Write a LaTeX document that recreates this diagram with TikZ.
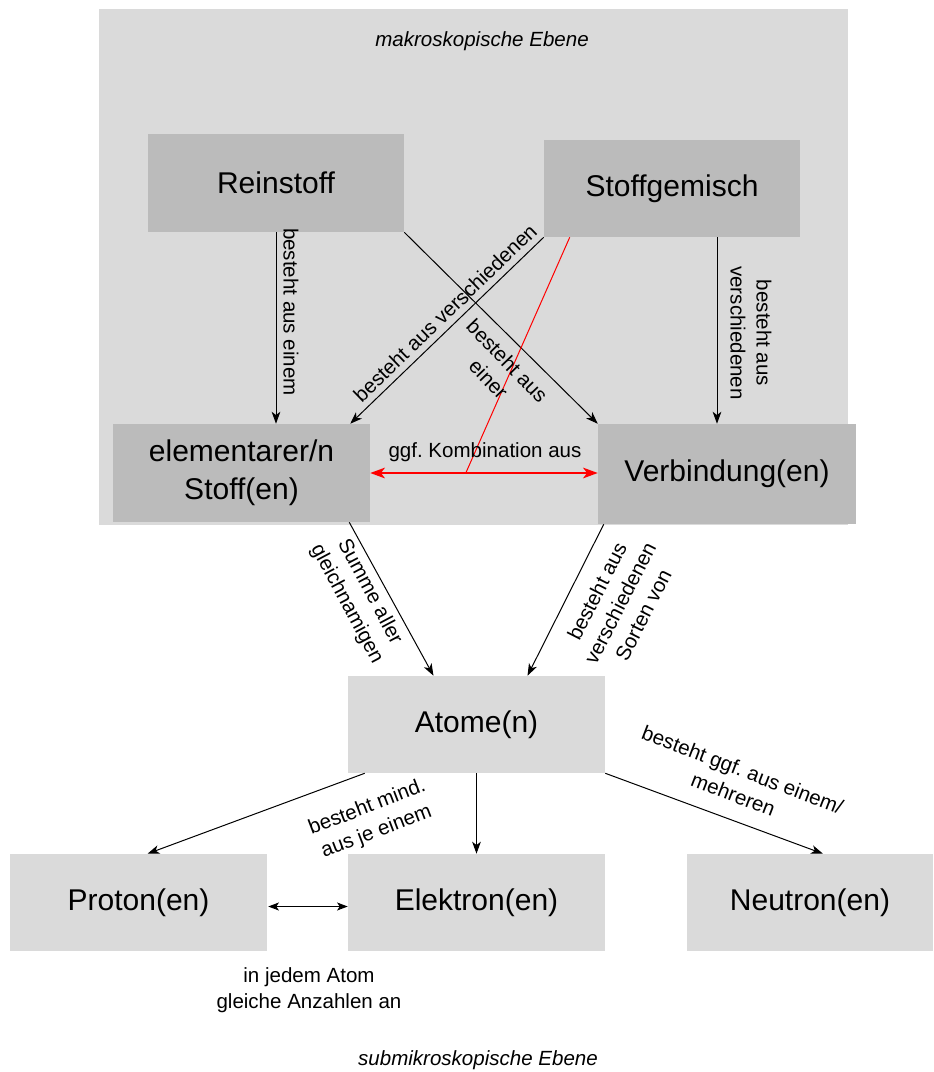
\documentclass[tikz,border=0pt]{standalone}
\usepackage{fontspec}
\setmainfont{Liberation Sans}
\usetikzlibrary{arrows.meta,calc}
\frenchspacing
\definecolor{bglight}{HTML}{DADADA}
\definecolor{boxdark}{HTML}{BBBBBB}
\definecolor{redline}{HTML}{FF0000}
\tikzset{
  box/.style={inner sep=0pt, align=center, font=\fontsize{22.5}{28.5}\selectfont},
  darkbox/.style={box, fill=boxdark},
  lightbox/.style={box, fill=bglight},
  lbl/.style={inner sep=0pt, align=center, font=\fontsize{15.4}{19.5}\selectfont},
  title/.style={inner sep=0pt, font=\fontsize{15.4}{19}\selectfont\itshape},
  conn/.style={draw=black, line width=0.75pt, -{Stealth[length=9pt, width=6.5pt, inset=2.5pt]}},
  redconn/.style={draw=redline, line width=1.5pt, {Stealth[length=11pt, width=8pt, inset=3pt]}-{Stealth[length=11pt, width=8pt, inset=3pt]}},
}
\begin{document}
\begin{tikzpicture}[x=0.75pt,y=-0.75pt]
\useasboundingbox (0,0) rectangle (933,1072);
% macroscopic background
\fill[bglight] (99,9) rectangle (848,525);
\node[title] (makro) at (482,41) {makroskopische Ebene};
\node[title] (submikro) at (478,1060) {submikroskopische Ebene};

% boxes
\node[darkbox, minimum width=192pt, minimum height=73.5pt] (rein) at (276,183) {Reinstoff};
\node[darkbox, minimum width=192pt, minimum height=72.75pt] (stoff) at (672,188.5) {Stoffgemisch};
\node[darkbox, minimum width=192.75pt, minimum height=73.5pt] (elem) at (241.5,473) {elementarer/n\\Stoff(en)};
\node[darkbox, minimum width=193.5pt, minimum height=75pt] (verb) at (727,474) {Verbindung(en)};
\node[lightbox, minimum width=192.75pt, minimum height=72.75pt] (atome) at (476.5,724.5) {Atome(n)};
\node[lightbox, minimum width=192.75pt, minimum height=72.75pt] (proton) at (138.5,902.5) {Proton(en)};
\node[lightbox, minimum width=192.75pt, minimum height=72.75pt] (elektron) at (476.5,902.5) {Elektron(en)};
\node[lightbox, minimum width=184.5pt, minimum height=72.75pt] (neutron) at (810,902.5) {Neutron(en)};

% connectors, macroscopic
\draw[conn] (rein.south) -- (rein.south |- elem.north);
\draw[conn] (rein.south east) -- (verb.north west);
\draw[conn] (stoff.south west) -- ($(elem.north east)+(-20,0)$);
\coordinate (stoffout) at ($(stoff.south)+(45,0)$);
\draw[conn] (stoffout) -- (stoffout |- verb.north);
\coordinate (redmeet) at ($(elem.east)!0.42!(elem.east -| verb.west)$);
\draw[redconn] (elem.east) -- (elem.east -| verb.west);
\draw[draw=redline, line width=0.75pt] ($(stoff.south west)+(26,0)$) -- (redmeet);

% connectors, submicroscopic
\draw[conn] ($(elem.south east)+(-21,0)$) -- ($(atome.north)+(-43,0)$);
\draw[conn] ($(verb.south west)+(6,0)$) -- ($(atome.north)+(51,0)$);
\draw[conn] ($(atome.south west)+(17,0)$) -- ($(proton.north)+(9,0)$);
\draw[conn] (atome.south) -- (elektron.north);
\draw[conn] (atome.south east) -- ($(neutron.north)+(13,0)$);
\draw[draw=black, line width=0.75pt, {Stealth[length=8pt, width=6pt, inset=2pt]}-{Stealth[length=8pt, width=6pt, inset=2pt]}] ($(proton.east)+(1,4)$) -- ($(elektron.west)+(0,4)$);

% labels
\node[lbl, rotate=-90] (l1) at (291,312) {besteht aus einem};
\node[lbl, rotate=44] (l2) at (445,313) {besteht aus verschiedenen};
\node[lbl, rotate=-46] (l3) at (498,370) {besteht aus\\einer};
\node[lbl, rotate=-90] (l4) at (751,333) {besteht aus\\verschiedenen};
\node[lbl] (l5) at (485,452) {ggf. Kombination aus};
\node[lbl, rotate=-62] (l6) at (358,598) {Summe aller\\gleichnamigen};
\node[lbl, rotate=63] (l7) at (620,603) {besteht aus\\verschiedenen\\Sorten von};
\node[lbl, rotate=21] (l8) at (372,820) {besteht mind.\\aus je einem};
\node[lbl, rotate=-21] (l9) at (738,782) {besteht ggf. aus einem/\\mehreren};
\node[lbl] (l10) at (309,990) {in jedem Atom\\gleiche Anzahlen an};
\end{tikzpicture}
\end{document}
